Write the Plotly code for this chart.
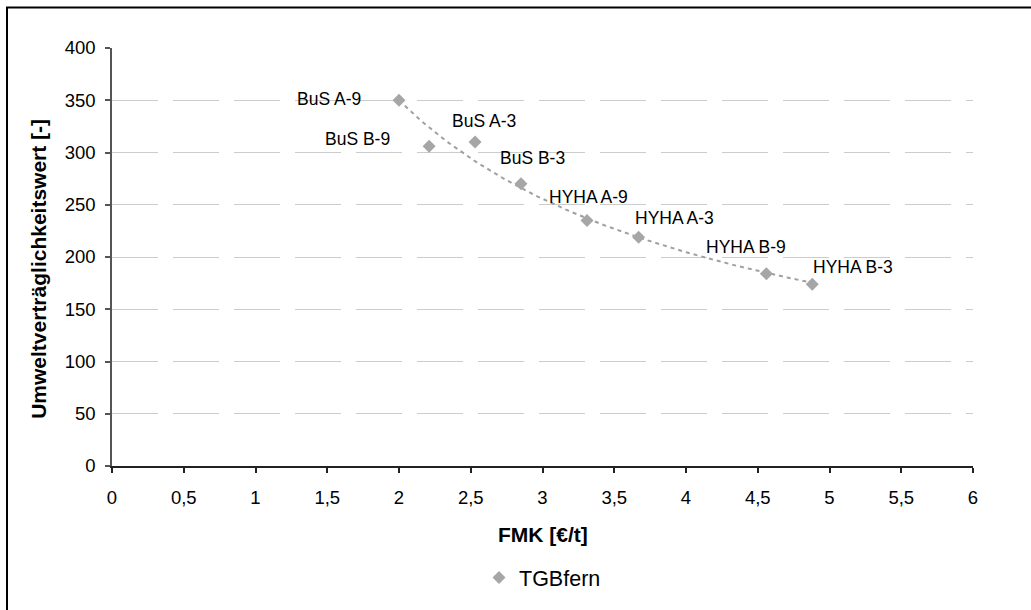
import numpy as np
import plotly.graph_objects as go

# Variants and their cost / environmental score
variants = ["BuS A-9", "BuS B-9", "BuS A-3", "BuS B-3",
            "HYHA A-9", "HYHA A-3", "HYHA B-9", "HYHA B-3"]
fmk = [2.00, 2.21, 2.53, 2.85, 3.31, 3.67, 4.56, 4.88]
umwelt = [350, 306, 310, 270, 235, 219, 184, 174]

x_tickvals = [0, 0.5, 1, 1.5, 2, 2.5, 3, 3.5, 4, 4.5, 5, 5.5, 6]
x_ticktext = ["0", "0,5", "1", "1,5", "2", "2,5", "3", "3,5", "4", "4,5", "5", "5,5", "6"]
y_tickvals = [0, 50, 100, 150, 200, 250, 300, 350, 400]

# label offsets in pixels relative to each marker (dx, dy up)
label_offsets = [(-70, 1), (-72, 7), (9, 21), (12, 26),
                 (2, 23), (36, 19), (-20, 27), (41, 17)]

# power trendline y = a * x^b fitted over the series
b, ln_a = np.polyfit(np.log(fmk), np.log(umwelt), 1)
tx = np.linspace(min(fmk), max(fmk), 100)
ty = np.exp(ln_a) * tx ** b

W, H = 1031, 610
L, R, T, B = 112, 58, 48, 138
pw, ph = W - L - R, H - T - B

FONT = "Liberation Sans, Arial"

fig = go.Figure()
fig.add_trace(go.Scatter(
    x=tx, y=ty, mode="lines", showlegend=False, hoverinfo="skip",
    line=dict(color="#a0a0a0", width=2, dash="4px,4px"),
))
fig.add_trace(go.Scatter(
    x=fmk, y=umwelt, mode="markers", name="TGBfern",
    marker=dict(symbol="diamond", size=10, color="#a6a6a6"),
))

for name, xv, yv, (dx, dy) in zip(variants, fmk, umwelt, label_offsets):
    fig.add_annotation(x=xv, y=yv, text=name, showarrow=False,
                       xshift=dx, yshift=dy,
                       font=dict(family=FONT, size=17.5, color="#000"))

# y-axis title
fig.add_annotation(xref="paper", yref="paper", x=(39 - L) / pw, y=(T + ph - 272) / ph,
                   text="<b>Umweltverträglichkeitswert [-]</b>", textangle=-90,
                   showarrow=False, xanchor="center", yanchor="middle",
                   font=dict(family=FONT, size=21, color="#000"))
# x-axis title
fig.add_annotation(xref="paper", yref="paper", x=0.5, y=(T + ph - 541) / ph,
                   text="<b>FMK [€/t]</b>", showarrow=False,
                   xanchor="center", yanchor="middle",
                   font=dict(family=FONT, size=21, color="#000"))

# outer frame
fig.add_shape(type="rect", xref="paper", yref="paper",
              x0=(7 - L) / pw, x1=(1045 - L) / pw,
              y0=(T + ph - 625) / ph, y1=(T + ph - 7) / ph,
              line=dict(color="#000", width=2), fillcolor="rgba(0,0,0,0)", layer="above")

fig.update_layout(
    width=W, height=H,
    margin=dict(l=L, r=R, t=T, b=B),
    paper_bgcolor="white", plot_bgcolor="white",
    font=dict(family=FONT, size=18.5, color="#000"),
    showlegend=True,
    legend=dict(orientation="h", x=0.5, xanchor="center",
                y=(T + ph - 585) / ph, yanchor="middle",
                font=dict(size=21.5), bgcolor="rgba(0,0,0,0)"),
    xaxis=dict(range=[0, 6], tickvals=x_tickvals, ticktext=x_ticktext,
               showgrid=False, zeroline=False,
               showline=True, linecolor="#222", linewidth=1.5,
               ticks="outside", ticklen=5, tickcolor="#222", tickwidth=1.5,
               ticklabelstandoff=9),
    yaxis=dict(range=[0, 400], tickvals=y_tickvals,
               showgrid=True, gridcolor="#cccccc", gridwidth=1, griddash="46px,15px",
               zeroline=False,
               showline=True, linecolor="#555", linewidth=1.5,
               ticks="outside", ticklen=5, tickcolor="#555", tickwidth=1.5,
               ticklabelstandoff=6),
)

fig.write_html("out.html")
